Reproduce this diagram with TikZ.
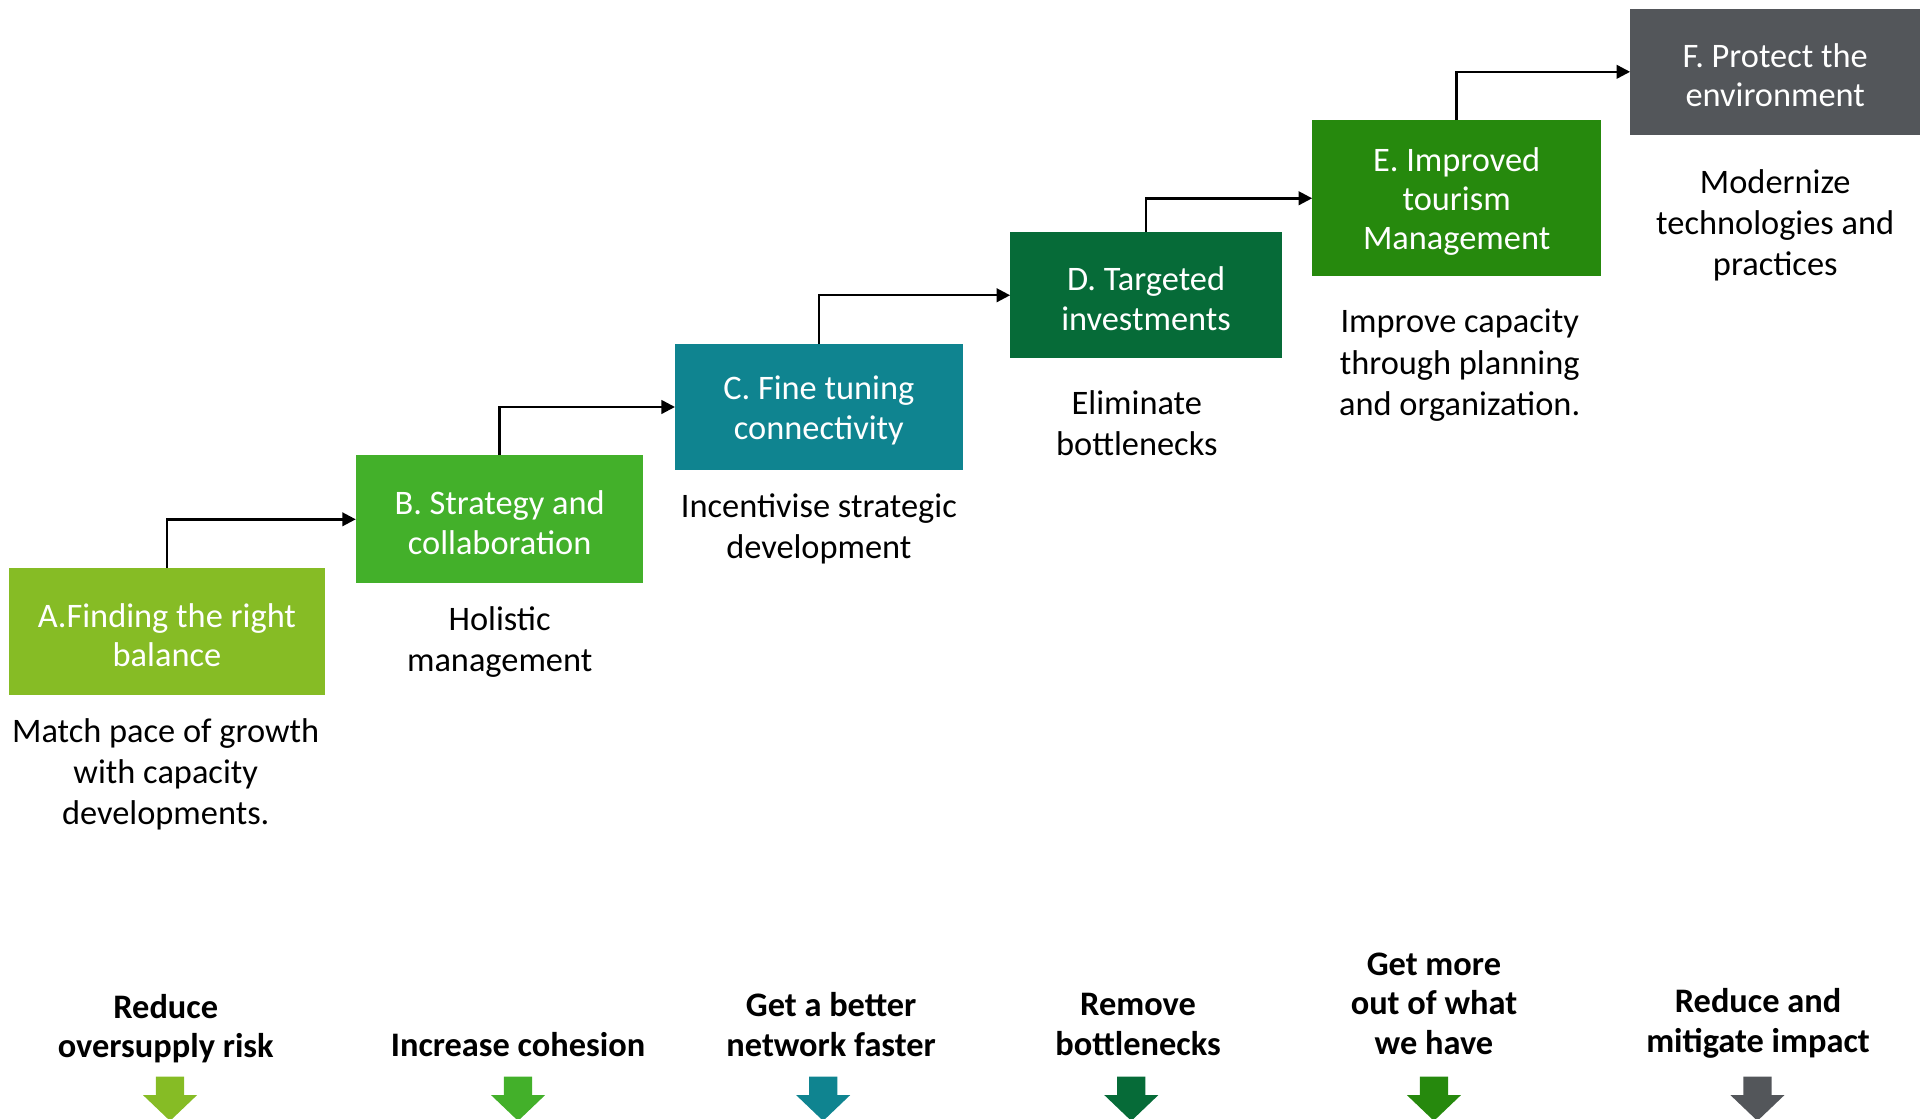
\documentclass[tikz,border=0pt]{standalone}
\usepackage{fontspec}
\setmainfont{Carlito}
\usetikzlibrary{arrows.meta}
\definecolor{cA}{HTML}{86BC25}
\definecolor{cB}{HTML}{43B02A}
\definecolor{cC}{HTML}{0F8490}
\definecolor{cD}{HTML}{066B38}
\definecolor{cE}{HTML}{26890D}
\definecolor{cF}{HTML}{53565A}
\newcommand{\boxstrut}{\rule{0pt}{25pt}}
\begin{document}
\begin{tikzpicture}[x=1pt,y=-1pt,
  box/.style={fill=#1, text=white, inner sep=0pt, align=center, font=\fontsize{28}{32}\selectfont},
  desc/.style={align=center, inner sep=0pt, font=\fontsize{28}{33.5}\selectfont},
  goal/.style={align=center, inner sep=0pt, font=\bfseries\fontsize{28}{32}\selectfont},
  link/.style={line width=2pt, -{Triangle[length=11pt,width=11pt]}},
  downarrow/.style={fill=#1, draw=none}]
\useasboundingbox (0,0) rectangle (1568,911);

% boxes
\node[box=cA, minimum width=258pt, minimum height=103pt] (A) at (136,514.5) {\boxstrut A.Finding the right\\balance};
\node[box=cB, minimum width=234pt, minimum height=104pt] (B) at (407,423) {\boxstrut B. Strategy and\\collaboration};
\node[box=cC, minimum width=234pt, minimum height=103pt] (C) at (667,331.5) {\boxstrut C. Fine tuning\\connectivity};
\node[box=cD, minimum width=221pt, minimum height=103pt] (D) at (933.5,240.5) {\boxstrut D. Targeted\\investments};
\node[box=cE, minimum width=235pt, minimum height=127pt] (E) at (1186.5,161.5) {\boxstrut E. Improved\\tourism\\Management};
\node[box=cF, minimum width=236pt, minimum height=103pt] (F) at (1446,58.5) {\boxstrut F. Protect the\\environment};

% connectors
\draw[link] (A.north) |- (B.west);
\draw[link] (B.north) |- (C.west);
\draw[link] (C.north) |- (D.west);
\draw[link] (D.north) |- (E.west);
\draw[link] (E.north) |- (F.west);

% descriptions
\node[desc] (dA) at (135,630.5) {Match pace of growth\\with capacity\\developments.};
\node[desc] (dB) at (407,523) {Holistic\\management};
\node[desc] (dC) at (667,431) {Incentivise strategic\\development};
\node[desc] (dD) at (926,344.5) {Eliminate\\bottlenecks};
\node[desc] (dE) at (1189,297.5) {Improve capacity\\through planning\\and organization.};
\node[desc] (dF) at (1446,183.5) {Modernize\\technologies and\\practices};

% goals
\node[goal] (gA) at (135,838) {Reduce\\oversupply risk};
\node[goal] (gB) at (422,851) {Increase cohesion};
\node[goal] (gC) at (677,834.5) {Get a better\\network faster};
\node[goal] (gD) at (927,834.5) {Remove\\bottlenecks};
\node[goal] (gE) at (1168,817.5) {Get more\\out of what\\we have};
\node[goal] (gF) at (1432,833.5) {Reduce and\\mitigate impact};

% down arrows
\foreach \cx/\col in {138.5/cA, 422/cB, 670.5/cC, 921.5/cD, 1168/cE, 1431.5/cF}{
  \fill[downarrow=\col] (\cx-11.5,877) -- (\cx+11.5,877) -- (\cx+11.5,892) -- (\cx+22,892)
    -- (\cx,913) -- (\cx-22,892) -- (\cx-11.5,892) -- cycle;
}
\end{tikzpicture}
\end{document}
